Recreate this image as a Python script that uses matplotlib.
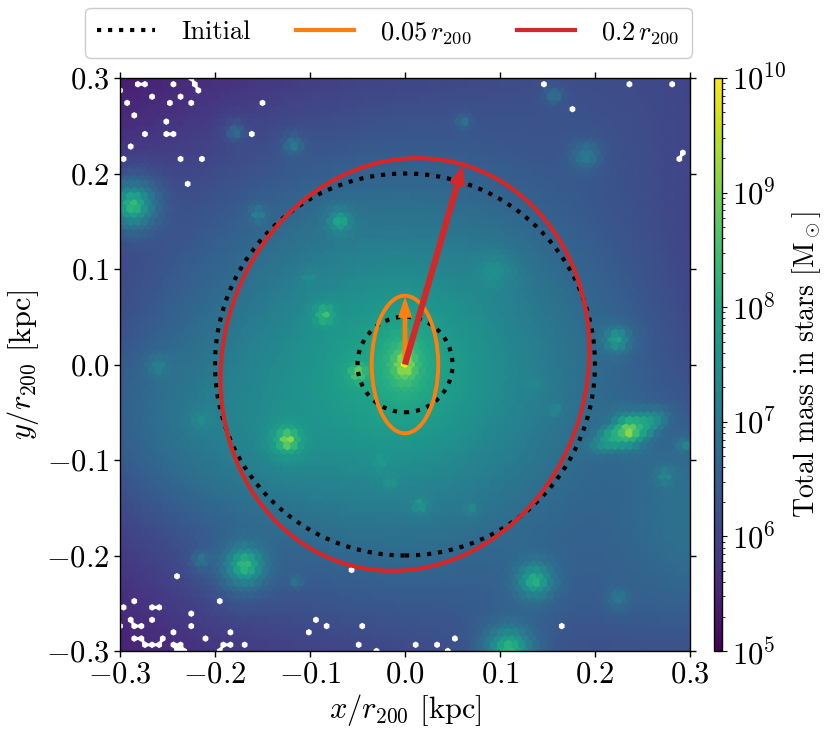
import numpy as np
import matplotlib
matplotlib.use("Agg")
import matplotlib.pyplot as plt
from matplotlib.colors import LogNorm
from matplotlib.patches import Ellipse, Circle
from matplotlib.lines import Line2D

plt.rcParams['font.family'] = 'serif'
plt.rcParams['font.serif'] = ['cmr10']
plt.rcParams['mathtext.fontset'] = 'cm'
plt.rcParams['axes.formatter.use_mathtext'] = True
plt.rcParams['axes.linewidth'] = 1.0

# ---------------- data ----------------
# central stellar halo (mass per hexagonal bin, Msun)
halo_inner_logm = 9.95
halo_inner_rc = 0.004
halo_inner_q = 0.7
halo_outer_logm = 7.85
halo_outer_rc = 0.12
halo_outer_cut = 0.45
halo_outer_center = (-0.01, -0.01)
halo_outer_axes = (1.1, 0.95)

# broad diffuse features (x, y, sigma_major, sigma_minor, angle_deg, log mass)
glow_x = [-0.15, 0.25, 0.22, 0.31, 0.235]
glow_y = [-0.06, -0.22, 0.28, -0.16, -0.070]
glow_sa = [0.08, 0.12, 0.12, 0.06, 0.016]
glow_sb = [0.05, 0.10, 0.10, 0.05, 0.006]
glow_ang = [0.0, 0.0, 0.0, 90.0, 23.0]
glow_logm = [6.95, 6.2, 6.0, 6.7, 8.3]

# satellites (position, peak log mass per bin, core radius)
sat_x = [-0.286, -0.068, -0.084, -0.123, -0.123, 0.236,
         -0.168, 0.137, 0.110, -0.049, 0.094, 0.223, -0.117, -0.154, -0.101,
         0.157, 0.062, 0.191, -0.259, -0.214, -0.025, -0.015, 0.016, 0.070,
         0.159, 0.274, 0.294, -0.214, 0.225, -0.114, -0.178, 0.137]
sat_y = [0.167, 0.150, 0.052, -0.079, -0.079, -0.069,
         -0.210, -0.226, -0.298, -0.009, 0.096, 0.026, 0.230, 0.157, 0.091,
         0.282, 0.254, 0.219, -0.002, -0.058, -0.102, -0.124, -0.147, -0.152,
         -0.048, -0.117, -0.084, -0.205, -0.245, -0.227, 0.244, -0.021]
sat_logm = [8.4, 8.0, 8.5, 9.4, 7.6, 9.3,
            8.4, 8.2, 8.3, 8.9, 7.3, 7.9, 7.0, 7.3, 7.4,
            6.8, 6.8, 7.0, 7.1, 7.2, 7.6, 7.4, 7.7, 7.2,
            7.2, 7.3, 7.2, 6.9, 6.9, 6.8, 6.7, 7.0]
sat_rc = [0.010, 0.008, 0.007, 0.005, 0.020, 0.005,
          0.010, 0.010, 0.012, 0.006, 0.020, 0.008, 0.008, 0.006, 0.006,
          0.008, 0.006, 0.012, 0.010, 0.010, 0.006, 0.006, 0.006, 0.006,
          0.006, 0.008, 0.006, 0.008, 0.010, 0.006, 0.008, 0.008]

# empty bins (white holes)
empty_x = [-0.297, -0.279, -0.270, -0.246, -0.225, -0.219, -0.264, -0.234, -0.219,
           -0.249, -0.225, -0.294, -0.282, -0.249, -0.249, -0.245, -0.276, -0.288,
           -0.294, -0.234, -0.216, -0.228, -0.153, -0.159, 0.293, 0.173, 0.291,
           0.148, 0.239, 0.282,
           -0.237, -0.297, -0.282, -0.267, -0.255, -0.198, -0.222, -0.286, -0.267,
           -0.276, -0.286, -0.298, -0.246, -0.225, -0.180, -0.207, -0.286, -0.279,
           -0.277, -0.264, -0.255, -0.259, -0.245, -0.242, -0.234, -0.231, -0.189,
           -0.186, -0.167, -0.195, -0.095, -0.083, -0.101, -0.044, 0.013, 0.053,
           -0.050, -0.032, 0.035, 0.046, -0.056, 0.165]
empty_y = [0.286, 0.296, 0.293, 0.292, 0.296, 0.296, 0.281, 0.281, 0.286,
           0.276, 0.276, 0.271, 0.260, 0.255, 0.244, 0.239, 0.239, 0.228,
           0.217, 0.217, 0.217, 0.186, 0.275, 0.244, 0.219, 0.265, 0.217,
           0.296, 0.296, 0.296,
           -0.223, -0.255, -0.250, -0.255, -0.255, -0.250, -0.261, -0.266, -0.266,
           -0.271, -0.276, -0.276, -0.281, -0.276, -0.281, -0.286, -0.286, -0.289,
           -0.294, -0.292, -0.286, -0.296, -0.292, -0.297, -0.292, -0.297, -0.296,
           -0.294, -0.292, -0.297, -0.271, -0.271, -0.281, -0.276, -0.292, -0.286,
           -0.297, -0.297, -0.297, -0.297, -0.212, -0.271]

# shapes
init_radii = [0.2, 0.05]
orange_axes = (0.035, 0.072)      # semi-axes (x, y)
red_axes = (0.192, 0.218)         # semi-minor, semi-major
red_angle = -16.3                 # degrees
orange_arrow = (0.0, 0.071)
red_arrow = (0.061, 0.209)

gridsize = 80
extent = (-0.3, 0.3, -0.3, 0.3)

# ---------------- hex centres ----------------
nx = gridsize
ny = int(nx / np.sqrt(3))
xmin, xmax, ymin, ymax = extent
sx = (xmax - xmin) / nx
sy = (ymax - ymin) / ny
g1x, g1y = np.meshgrid(xmin + np.arange(nx + 1) * sx, ymin + np.arange(ny + 1) * sy)
g2x, g2y = np.meshgrid(xmin + (np.arange(nx) + 0.5) * sx, ymin + (np.arange(ny) + 0.5) * sy)
hx = np.concatenate([g1x.ravel(), g2x.ravel()])
hy = np.concatenate([g1y.ravel(), g2y.ravel()])


def field(x, y):
    r2i = (x / halo_inner_q) ** 2 + y ** 2
    m = 10 ** halo_inner_logm * (1 + r2i / halo_inner_rc ** 2) ** -1.2
    r2o = ((x - halo_outer_center[0]) / halo_outer_axes[0]) ** 2 + \
          ((y - halo_outer_center[1]) / halo_outer_axes[1]) ** 2
    m = m + 10 ** halo_outer_logm * (1 + r2o / halo_outer_rc ** 2) ** -2 * \
        np.exp(-r2o / halo_outer_cut ** 2)
    for gx, gy, ga, gb, gang, gl in zip(glow_x, glow_y, glow_sa, glow_sb, glow_ang, glow_logm):
        t = np.radians(gang)
        u = (x - gx) * np.cos(t) + (y - gy) * np.sin(t)
        v = -(x - gx) * np.sin(t) + (y - gy) * np.cos(t)
        m = m + 10 ** gl * np.exp(-0.5 * (u ** 2 / ga ** 2 + v ** 2 / gb ** 2))
    for px, py, pl, prc in zip(sat_x, sat_y, sat_logm, sat_rc):
        m = m + 10 ** pl * (1 + ((x - px) ** 2 + (y - py) ** 2) / prc ** 2) ** -2
    return m


vals = field(hx, hy)
keep = np.ones(hx.size, bool)
for ex, ey in zip(empty_x, empty_y):
    keep[np.argmin((hx - ex) ** 2 + (hy - ey) ** 2)] = False

# ---------------- figure ----------------
fig = plt.figure(figsize=(8.3, 7.37), dpi=100)
ax = fig.add_axes([120 / 830, 86 / 737, 570 / 830, 573 / 737])
cax = fig.add_axes([714 / 830, 86 / 737, 8 / 830, 573 / 737])

hb = ax.hexbin(hx[keep], hy[keep], C=vals[keep], gridsize=gridsize, extent=extent,
               reduce_C_function=np.mean, cmap='viridis',
               norm=LogNorm(vmin=1e5, vmax=1e10), zorder=1)

orange = '#ff7f0e'
red = '#d62728'

for r in init_radii:
    ax.add_patch(Circle((0, 0), r, fill=False, ec='black', ls=':', lw=3, zorder=3))
ax.add_patch(Ellipse((0, 0), 2 * orange_axes[0], 2 * orange_axes[1], angle=0,
                     fill=False, ec=orange, lw=2.8, zorder=4))
ax.arrow(0, 0, orange_arrow[0], orange_arrow[1], width=0.005, head_width=0.015,
         head_length=0.022, length_includes_head=True, color=orange, lw=0, zorder=5)
ax.add_patch(Ellipse((0, 0), 2 * red_axes[0], 2 * red_axes[1], angle=red_angle,
                     fill=False, ec=red, lw=3, zorder=6))
ax.arrow(0, 0, red_arrow[0], red_arrow[1], width=0.0065, head_width=0.017,
         head_length=0.022, length_includes_head=True, color=red, lw=0, zorder=7)

ax.set_xlim(-0.3, 0.3)
ax.set_ylim(-0.3, 0.3)
ticks = [-0.3, -0.2, -0.1, 0.0, 0.1, 0.2, 0.3]
ax.set_xticks(ticks)
ax.set_yticks(ticks)
ax.tick_params(direction='out', top=True, right=True, labelsize=22, length=4, width=1)
ax.set_xlabel(r'$x/r_{200}$ [kpc]', fontsize=22, labelpad=2)
ax.set_ylabel(r'$y/r_{200}$ [kpc]', fontsize=22, labelpad=4)

cb = fig.colorbar(hb, cax=cax)
cb.ax.tick_params(labelsize=22)
cb.set_label(r'Total mass in stars [M$_\odot$]', fontsize=20, labelpad=3)

handles = [Line2D([], [], color='black', ls=':', lw=3),
           Line2D([], [], color=orange, lw=3),
           Line2D([], [], color=red, lw=3)]
labels = ['Initial', r'$0.05\,r_{200}$', r'$0.2\,r_{200}$']
fig.legend(handles, labels, loc='upper center', bbox_to_anchor=(388.5 / 830, 1 - 8 / 737),
           borderaxespad=0.0, ncol=3, fontsize=19, columnspacing=1.7, handletextpad=1.0,
           handlelength=2.2, borderpad=0.45, framealpha=1.0)

fig.savefig('out.png', dpi=100)
